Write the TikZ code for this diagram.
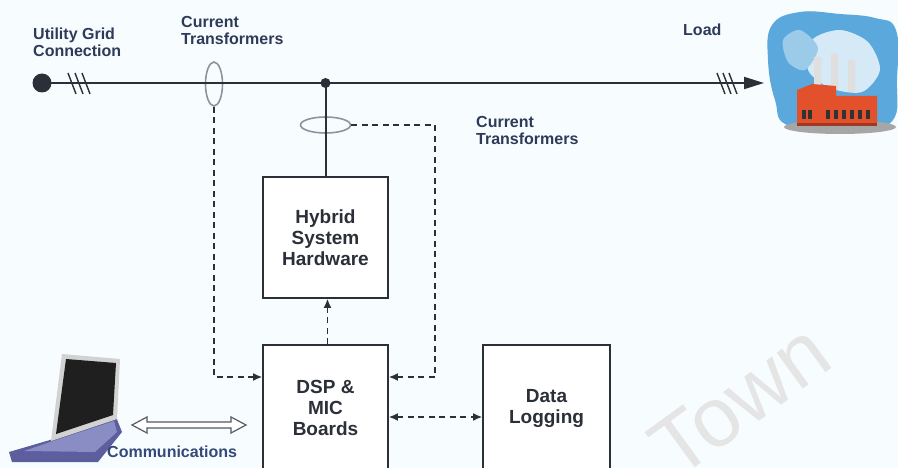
\documentclass[tikz,border=0pt]{standalone}
\usepackage{fontspec}
\setmainfont{Liberation Sans}
\usetikzlibrary{arrows.meta,shapes.geometric}
\definecolor{ink}{HTML}{2B2F38}
\definecolor{lbl}{HTML}{2E3A58}
\definecolor{comm}{HTML}{34487A}
\definecolor{ctgray}{HTML}{8C939C}
\definecolor{sky}{HTML}{5AA8DC}
\definecolor{brick}{HTML}{E2512C}
\definecolor{lapbody}{HTML}{5C5E9E}
\definecolor{lapkey}{HTML}{8A8CC4}
\tikzset{
  bus/.style={draw=ink, line width=2pt},
  blockbox/.style={draw=ink, line width=1.8pt, fill=white, minimum width=125pt,
    align=center, font=\bfseries\fontsize{19}{21}\selectfont, text=ink},
  lbltext/.style={align=left, font=\bfseries\fontsize{16}{17}\selectfont, text=lbl, anchor=north west, inner sep=0pt},
  ctring/.style={ellipse, draw=ctgray, line width=1.6pt, inner sep=0pt},
  sigline/.style={draw=ink, line width=1.3pt, dash pattern=on 6pt off 4.5pt},
  sigtip/.style={-{Latex[length=9pt,width=8pt]}},
  hashmark/.style={draw=ink, line width=1.4pt},
}
\begin{document}
\begin{tikzpicture}[x=1pt,y=-1pt]
\useasboundingbox (0,0) rectangle (898,468);
\clip (0,0) rectangle (898,468);
\fill[white!97!cyan] (0,0) rectangle (898,468);

% watermark
\node[rotate=36, text=gray!20, font=\fontsize{84}{84}\selectfont] at (740,400) {Town};

% --- load: factory with smoke cloud
\fill[sky] plot[smooth cycle, tension=0.7] coordinates {(772,25) (800,12) (840,14) (875,18) (896,30) (897,80) (893,120) (860,128) (790,126) (775,100) (768,60)};
\fill[white, opacity=0.75] plot[smooth cycle] coordinates {(812,40) (840,30) (868,42) (880,70) (862,92) (830,88) (808,70)};
\fill[sky!60!white] plot[smooth cycle] coordinates {(783,40) (800,30) (818,48) (805,70) (788,62)};
\fill[gray!70] (840,127) ellipse [x radius=56, y radius=7];
\fill[gray!25] (814,57) rectangle (821,92) (831,54) rectangle (838,90) (848,60) rectangle (855,92);
\fill[brick] (797,123) -- (797,90) -- (812,84) -- (836,86) -- (836,96) -- (877,96) -- (877,123) -- cycle;
\fill[brick!70!black] (797,123) rectangle (877,126);
\foreach \wx in {802,808,826,834,842,850,858,866}
  \fill[black!80] (\wx,110) rectangle ++(4,9);

% --- laptop
\fill[lapbody] (50,440) -- (116,417) -- (122,432) -- (98,462) -- (12,462) -- (9,452) -- cycle;
\fill[lapkey] (56,440) -- (114,421) -- (117,432) -- (95,452) -- (24,451) -- cycle;
\fill[gray!35] (62,354) -- (120,359) -- (117,419) -- (51,441) -- cycle;
\fill[black!88] (66,359) -- (116,363) -- (113,415) -- (56,434) -- cycle;

% --- main power line
\fill[ink] (42,83) circle (9.5) coordinate (grid);
\coordinate (junction) at (325.5,83);
\coordinate (loadend) at (764,83);
\node[ctring, minimum width=17pt, minimum height=44pt] (ct1) at (214,84) {};
\node[ctring, minimum width=50pt, minimum height=16pt] (ct2) at (325.5,125) {};
\draw[bus, -{Triangle[length=20pt,width=12pt]}] (grid) -- (junction) -- (loadend);
\fill[ink] (junction) circle (5);
\foreach \hx in {72,79,86} \draw[hashmark] (\hx-4,73) -- (\hx+4,94);
\foreach \hx in {721,727,733} \draw[hashmark] (\hx-4,73) -- (\hx+4,94);

% --- blocks
\node[blockbox, minimum height=121pt] (hybrid) at (325.5,237.5) {Hybrid\\System\\Hardware};
\node[blockbox, minimum height=126pt] (dsp) at (325.5,408) {DSP \&\\MIC\\Boards};
\node[blockbox, minimum width=127pt, minimum height=126pt] (data) at (546.5,408) {Data\\Logging};
\draw[bus] (junction) -- (hybrid.north);

% --- signal connections
\coordinate (ctbend) at (435,377);
\draw[sigline, sigtip] (ct1.south) |- ([yshift=31pt]dsp.west);
\draw[sigline, sigtip] (ct2.east) -| (ctbend) -- ([yshift=31pt]dsp.east);
\draw[sigline, sigtip] ([xshift=2pt]dsp.north) -- ([xshift=2pt]hybrid.south);
\draw[sigline, {Latex[length=9pt,width=8pt]}-{Latex[length=9pt,width=8pt]}] ([yshift=-9pt]dsp.east) -- ([yshift=-9pt]data.west);

% --- communications link
\coordinate (commL) at (132,425);
\coordinate (commR) at (246,425);
\draw[ink!80, line width=1.2pt, fill=white]
  (commL) -- ++(15,-8) -- ++(0,5) -- ++(84,0) -- ++(0,-5) -- (commR) -- ++(-15,8) -- ++(0,-5) -- ++(-84,0) -- ++(0,5) -- cycle;

% --- labels
\node[lbltext] (lgrid) at (33,28) {Utility Grid\\Connection};
\node[lbltext] (lct1) at (181,16) {Current\\Transformers};
\node[lbltext] (lct2) at (476,116) {Current\\Transformers};
\node[lbltext] (lload) at (683,24) {Load};
\node[lbltext, text=comm] (lcomm) at (107,446) {Communications};
\end{tikzpicture}
\end{document}
